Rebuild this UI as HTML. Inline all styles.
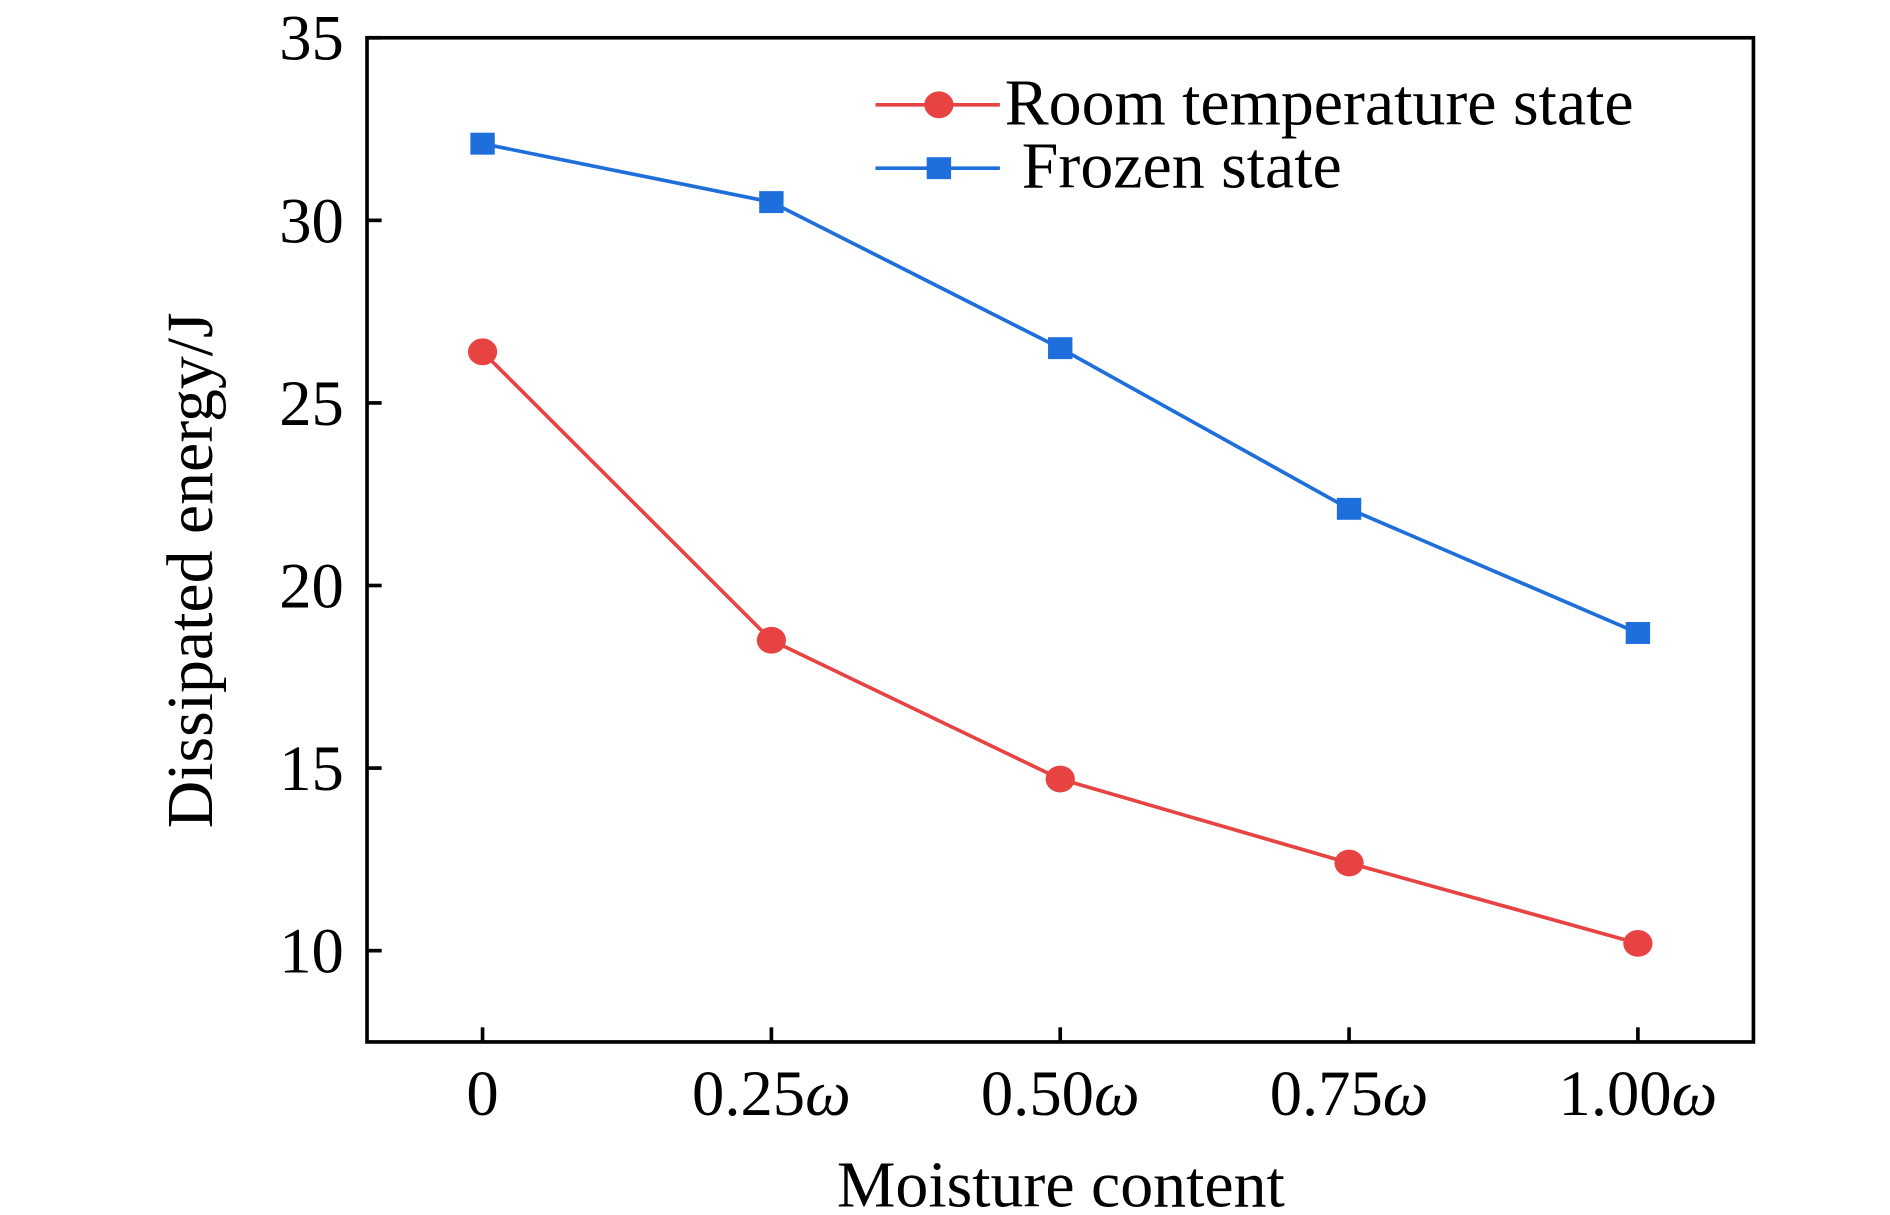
<!DOCTYPE html>
<html><head><meta charset="utf-8"><style>html,body{margin:0;padding:0;background:#fff}svg{display:block}</style></head>
<body>
<svg id="chart" width="1890" height="1215" viewBox="0 0 1550 997" preserveAspectRatio="none" xmlns="http://www.w3.org/2000/svg" font-family="'Liberation Serif', serif"></svg>
<script>
const categories = [0, 0.25, 0.5, 0.75, 1.0];
const xTickLabels = ["0", "0.25ω", "0.50ω", "0.75ω", "1.00ω"];
const frozenValues = [32.1, 30.5, 26.5, 22.1, 18.7];
const roomValues = [26.4, 18.5, 14.7, 12.4, 10.2];
const yTicks = [10, 15, 20, 25, 30, 35];

const L=301,R=1438,T=31,B=855;
const xMin=-0.1,xMax=1.1,yMin=7.5,yMax=35;
function xs(v){return L+(v-xMin)/(xMax-xMin)*(R-L);}
function ys(v){return B-(v-yMin)/(yMax-yMin)*(B-T);}
const svg=document.getElementById('chart');
const NS='http://www.w3.org/2000/svg';
function mk(tag,attrs,parent){const e=document.createElementNS(NS,tag);for(const k in attrs)e.setAttribute(k,attrs[k]);(parent||svg).appendChild(e);return e;}

const frame=mk('rect',{x:L,y:T,width:R-L,height:B-T,fill:'none',stroke:'#000','stroke-width':3});



yTicks.forEach(v=>{
  const t=mk('line',{x1:L,x2:L+12,y1:ys(v),y2:ys(v),stroke:'#000','stroke-width':3});
  
  
  const lb=mk('text',{x:282,y:ys(v)+18,'text-anchor':'end','font-size':53});
  lb.textContent=v;
  
  
});
categories.forEach((c,i)=>{
  const t=mk('line',{x1:xs(c),x2:xs(c),y1:B,y2:B-12,stroke:'#000','stroke-width':3});
  
  
  const lb=mk('text',{x:xs(c),y:915,'text-anchor':'middle','font-size':53});
  const s=xTickLabels[i];
  if(s.endsWith('ω')){lb.textContent=s.slice(0,-1);const ts=mk('tspan',{'font-style':'italic'},lb);ts.textContent='ω';}
  else lb.textContent=s;
  
  
});

function series(vals,color,shape,name){
  const pts=vals.map((v,i)=>xs(categories[i])+','+ys(v)).join(' ');
  const pl=mk('polyline',{points:pts,fill:'none',stroke:color,'stroke-width':3});
  
  
  vals.forEach((v,i)=>{
    let m;
    if(shape==='circle') m=mk('ellipse',{cx:xs(categories[i]),cy:ys(v),rx:12,ry:11,fill:color});
    else m=mk('rect',{x:xs(categories[i])-10,y:ys(v)-9,width:20,height:18,fill:color});
    
    
  });
}
series(frozenValues,'#1e6fdc','square','frozen');
series(roomValues,'#e84343','circle','room');

const lg=mk('g',{});


let l1=mk('line',{x1:718,x2:820,y1:86,y2:86,stroke:'#e84343','stroke-width':3},lg);


let m1=mk('ellipse',{cx:770,cy:86,rx:12,ry:11,fill:'#e84343'},lg);


let t1=mk('text',{x:824,y:102,'font-size':54},lg);t1.textContent='Room temperature state';


let l2=mk('line',{x1:718,x2:820,y1:138,y2:138,stroke:'#1e6fdc','stroke-width':3},lg);


let m2=mk('rect',{x:760,y:129,width:20,height:18,fill:'#1e6fdc'},lg);


let t2=mk('text',{x:838,y:154,'font-size':54},lg);t2.textContent='Frozen state';



const xt=mk('text',{x:870,y:990,'text-anchor':'middle','font-size':54});
xt.textContent='Moisture content';


const yt=mk('text',{x:0,y:0,'text-anchor':'middle','font-size':54,transform:'translate(174,468) rotate(-90)'});
yt.textContent='Dissipated energy/J';


</script>
</body></html>
